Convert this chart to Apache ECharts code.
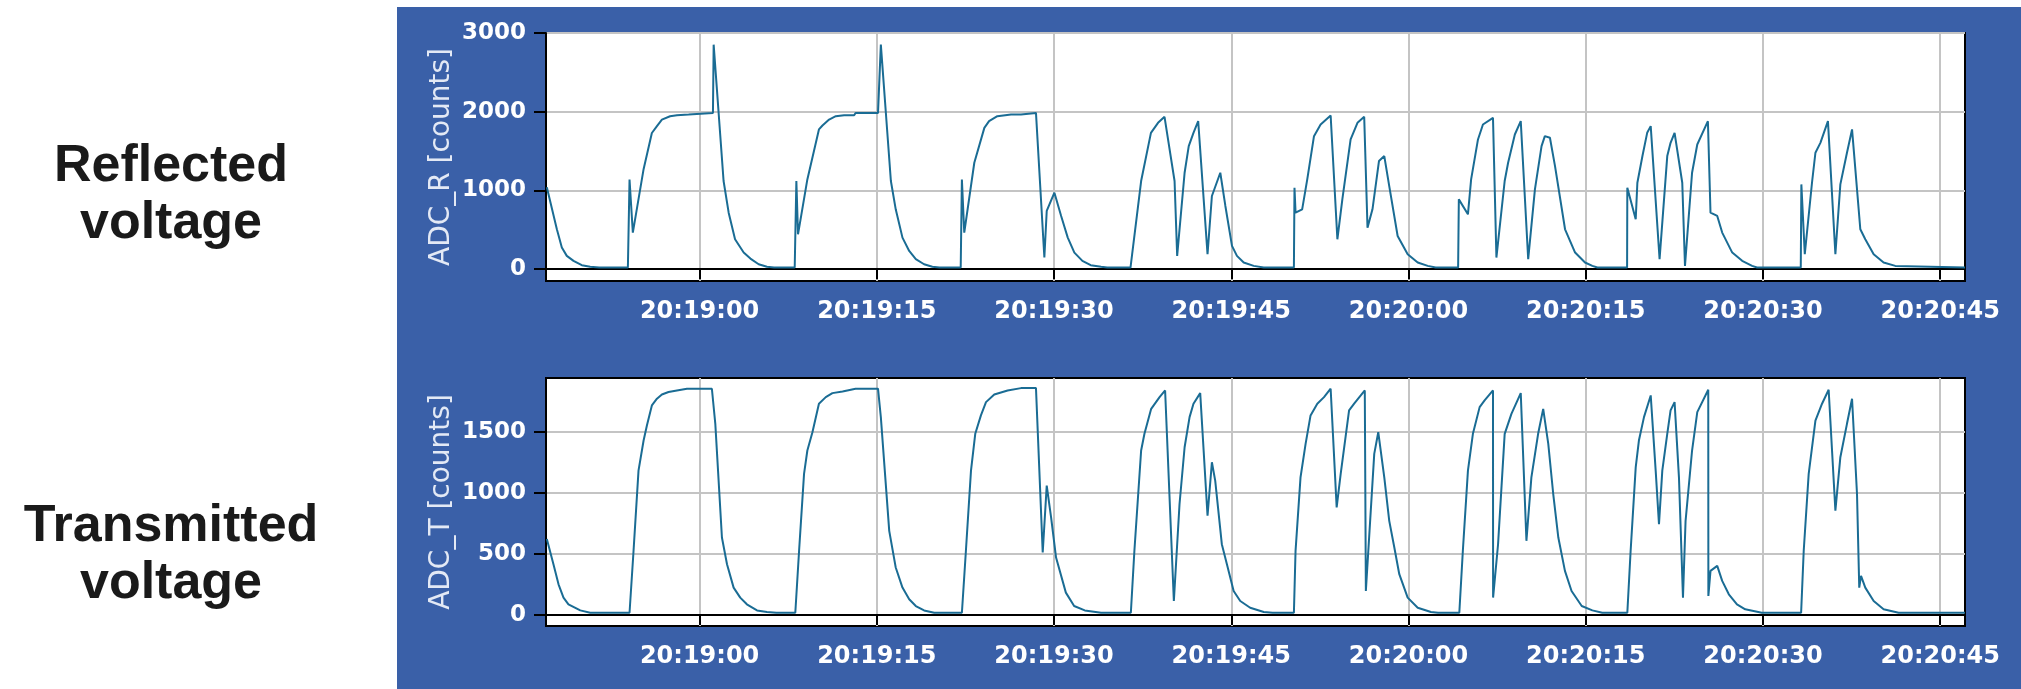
<!DOCTYPE html>
<html>
<head>
<meta charset="utf-8">
<script src="https://cdn.jsdelivr.net/npm/echarts@6/dist/echarts.min.js"></script>
<style>
html,body{margin:0;padding:0;background:#fff;}
#c{width:2021px;height:689px;}
</style>
</head>
<body>
<div id="c"></div>
<script>
// Time axis: seconds after 20:18:47
const START_CLOCK = [20, 18, 47];
const X_MIN = 0, X_MAX = 120.1;
const X_TICKS = [13, 28, 43, 58, 73, 88, 103, 118]; // 20:19:00 ... 20:20:45

const R_TICKS = [0, 1000, 2000, 3000];
const T_TICKS = [0, 500, 1000, 1500];

// ADC_R (reflected) : times [s] and values [counts]
const tR = [0.07,0.92,1.34,1.76,2.33,3.03,3.74,4.5,6.93,7.07,7.35,8.26,8.96,9.39,9.81,10.5,11.08,12.07,12.1,14.13,
 14.19,15.03,15.46,16.0,16.73,17.3,18.0,18.7,19.3,21.05,21.19,21.33,22.12,23.1,23.4,23.96,24.53,25.23,26.08,26.2,
 28.1,28.34,29.19,29.6,30.17,30.74,31.3,32.0,32.7,33.3,35.1,35.2,35.4,36.25,37.1,37.5,38.2,39.36,40.2,40.26,
 41.47,42.18,42.38,43.03,43.6,44.16,44.72,45.4,46.1,46.98,47.5,49.47,50.37,51.2,51.8,52.35,53.2,53.42,54.05,54.4,
 54.8,55.2,55.99,56.36,57.07,57.5,58.06,58.48,59.05,59.9,60.75,63.3,63.35,63.44,64.0,64.43,65.0,65.56,66.41,66.98,
 67.4,68.1,68.68,69.25,69.53,69.95,70.5,70.95,71.37,72.08,72.93,73.78,74.63,75.3,77.2,77.26,78.03,78.3,78.88,79.3,
 80.15,80.44,81.14,81.43,82.0,82.5,83.13,83.7,84.26,84.54,84.97,85.4,86.25,87.1,87.94,88.56,88.99,91.5,91.52,92.23,
 92.37,92.8,93.2,93.5,94.25,94.9,95.18,95.52,96.17,96.4,97.0,97.44,98.34,98.56,99.13,99.55,100.4,101.24,102.08,102.5,
 106.2,106.25,106.54,107.15,107.44,107.86,108.5,109.13,109.55,110.11,110.54,111.24,111.66,112.37,113.21,114.2,114.34,120.1];
const vR = [1040,507,275,169,106,51,30,21,21,1140,465,1270,1730,1817,1900,1943,1956,1965,1985,1985,
 2852,1120,718,380,211,135,63,30,21,21,1120,443,1140,1775,1825,1900,1943,1956,1956,1985,
 1985,2852,1120,760,401,232,127,63,30,21,21,1140,465,1352,1795,1880,1943,1965,1965,1985,
 1985,148,740,972,676,401,211,106,51,30,21,21,1120,1732,1859,1935,1120,169,1225,1563,
 1732,1880,190,930,1225,803,296,169,85,42,21,21,1035,718,760,1140,1690,1838,1952,380,
 887,1648,1859,1935,528,760,1373,1437,1056,422,190,85,42,21,21,887,697,1140,1648,1838,
 1922,148,1120,1352,1711,1880,127,1014,1563,1690,1669,1310,507,211,85,42,21,21,1035,634,
 1098,1437,1732,1817,127,1437,1605,1732,1098,42,1225,1584,1880,718,676,465,211,106,42,21,
 21,1077,190,1098,1479,1605,1880,190,1077,1479,1775,507,380,190,85,42,21,21];

// ADC_T (transmitted) : times [s] and values [counts]
const tT = [0.07,0.63,1.06,1.48,1.9,2.9,3.74,7.07,7.41,7.83,8.26,8.54,8.96,9.39,9.81,10.37,11.08,11.93,14.04,14.33,
 14.89,15.32,15.88,16.44,17.0,17.86,18.7,19.5,21.1,21.42,21.84,22.12,22.55,23.1,23.68,24.24,25.1,26.2,28.1,28.34,
 29.05,29.6,30.17,30.74,31.3,32.0,32.86,35.2,35.54,35.97,36.33,36.81,37.24,37.94,39.07,40.2,41.47,42.04,42.38,42.75,
 43.17,44.0,44.7,45.6,46.98,49.5,49.8,50.37,50.65,51.22,51.93,52.4,53.14,53.62,54.05,54.47,54.8,55.37,55.99,56.36,
 56.64,57.2,57.63,58.2,58.76,59.6,60.75,61.5,63.3,63.44,63.86,64.29,64.71,65.28,65.85,66.41,66.92,67.26,67.97,68.4,
 69.3,69.39,70.1,70.44,70.95,71.37,71.8,72.22,72.93,73.78,74.9,75.5,77.3,77.6,78.03,78.45,79.02,79.44,80.15,80.16,
 80.58,81.14,81.71,82.5,82.98,83.4,83.97,84.4,84.55,84.83,85.25,85.68,86.24,86.8,87.66,88.56,89.4,91.52,91.8,92.23,
 92.5,92.93,93.5,93.92,94.2,94.48,94.9,95.18,95.52,95.89,96.23,96.45,97.0,97.44,98.37,98.38,98.56,99.13,99.55,100.11,
 100.8,101.5,102.9,106.23,106.45,106.87,107.44,108.0,108.56,109.13,109.55,110.11,110.54,110.96,111.15,111.3,111.66,112.37,113.21,114.48,
 120.1];
const vT = [623,417,252,143,88,38,19,19,527,1185,1432,1555,1720,1775,1810,1830,1843,1857,1857,1569,
 636,417,225,143,88,38,25,19,19,527,1158,1350,1500,1734,1788,1821,1835,1857,1857,1624,
 691,390,225,129,74,38,19,19,527,1185,1487,1638,1747,1810,1843,1862,1862,513,1062,801,
 472,184,74,38,19,19,527,1350,1487,1692,1788,1843,115,911,1377,1624,1734,1821,815,1254,
 1103,581,417,197,115,60,25,19,19,527,1130,1404,1638,1734,1788,1857,883,1158,1679,1734,
 1843,197,1322,1500,1130,773,554,335,143,60,25,19,19,527,1185,1487,1706,1761,1843,143,
 581,1487,1651,1821,609,1130,1487,1692,1680,1404,993,636,362,197,74,38,19,19,527,1212,
 1432,1624,1802,1185,746,1185,1487,1679,1747,1130,143,773,1350,1665,1849,156,362,403,280,170,
 88,47,19,19,527,1158,1596,1734,1849,856,1295,1569,1775,993,225,321,225,115,47,19,
 19];

const zip = (t, v) => t.map((x, i) => [x, v[i]]);

function clock(s) {
  let total = START_CLOCK[0] * 3600 + START_CLOCK[1] * 60 + START_CLOCK[2] + Math.round(s);
  const h = Math.floor(total / 3600), m = Math.floor((total % 3600) / 60), sec = total % 60;
  const p = n => (n < 10 ? '0' : '') + n;
  return p(h) + ':' + p(m) + ':' + p(sec);
}

const LINE_COLOR = '#1a6c94';
const PANEL_BLUE = '#3a60a8';
const labelFont = { color: '#ffffff', fontFamily: 'DejaVu Sans', fontWeight: 'bold', fontSize: 23 };

function xAxisFor(gi) {
  return {
    type: 'value', gridIndex: gi, min: X_MIN, max: X_MAX,
    axisLine: { show: true, lineStyle: { color: '#000', width: 2 } },
    axisTick: { show: true, customValues: X_TICKS, length: 10, lineStyle: { color: '#000', width: 2 } },
    axisLabel: Object.assign({ customValues: X_TICKS, margin: 19, formatter: v => clock(v) }, labelFont, { fontSize: 24 }),
    splitLine: { show: true, lineStyle: { color: '#c4c4c4', width: 2 } }
  };
}
function yAxisFor(gi, min, max, ticks, name) {
  return {
    type: 'value', gridIndex: gi, min: min, max: max,
    name: name, nameLocation: 'middle', nameGap: 90, nameMoveOverlap: false,
    nameTextStyle: { color: '#e3e9f5', fontFamily: 'DejaVu Sans', fontSize: 28 },
    axisLine: { show: true, lineStyle: { color: '#000', width: 2 } },
    axisTick: { show: true, customValues: ticks, length: 12, lineStyle: { color: '#000', width: 2 } },
    axisLabel: Object.assign({ customValues: ticks, margin: 20, formatter: v => String(v) }, labelFont),
    splitLine: { show: true, lineStyle: { color: '#c4c4c4', width: 2 } }
  };
}

const chart = echarts.init(document.getElementById('c'), null, { renderer: 'canvas' });
chart.setOption({
  animation: false,
  backgroundColor: '#ffffff',
  graphic: {
    elements: [
      { type: 'rect', z: -100, silent: true, shape: { x: 397, y: 7, width: 1624, height: 682 }, style: { fill: PANEL_BLUE } },
      { type: 'text', x: 171, y: 167, style: { text: 'Reflected', font: 'bold 52px "Liberation Sans", Arial, sans-serif', fill: '#1a1a1a', align: 'center', verticalAlign: 'middle' } },
      { type: 'text', x: 171, y: 224, style: { text: 'voltage', font: 'bold 52px "Liberation Sans", Arial, sans-serif', fill: '#1a1a1a', align: 'center', verticalAlign: 'middle' } },
      { type: 'text', x: 171, y: 527, style: { text: 'Transmitted', font: 'bold 52px "Liberation Sans", Arial, sans-serif', fill: '#1a1a1a', align: 'center', verticalAlign: 'middle' } },
      { type: 'text', x: 171, y: 584, style: { text: 'voltage', font: 'bold 52px "Liberation Sans", Arial, sans-serif', fill: '#1a1a1a', align: 'center', verticalAlign: 'middle' } }
    ]
  },
  grid: [
    { left: 546, right: 56, top: 33, height: 248, show: true, backgroundColor: '#fff', borderColor: '#000', borderWidth: 2 },
    { left: 546, right: 56, top: 378, height: 248, show: true, backgroundColor: '#fff', borderColor: '#000', borderWidth: 2 }
  ],
  xAxis: [xAxisFor(0), xAxisFor(1)],
  yAxis: [
    yAxisFor(0, -150, 3000, R_TICKS, 'ADC_R [counts]'),
    yAxisFor(1, -90, 1945, T_TICKS, 'ADC_T [counts]')
  ],
  series: [
    { type: 'line', xAxisIndex: 0, yAxisIndex: 0, data: zip(tR, vR), showSymbol: false, symbol: 'none',
      lineStyle: { color: LINE_COLOR, width: 2 }, itemStyle: { color: LINE_COLOR } },
    { type: 'line', xAxisIndex: 1, yAxisIndex: 1, data: zip(tT, vT), showSymbol: false, symbol: 'none',
      lineStyle: { color: LINE_COLOR, width: 2 }, itemStyle: { color: LINE_COLOR } }
  ]
});
</script>
</body>
</html>
